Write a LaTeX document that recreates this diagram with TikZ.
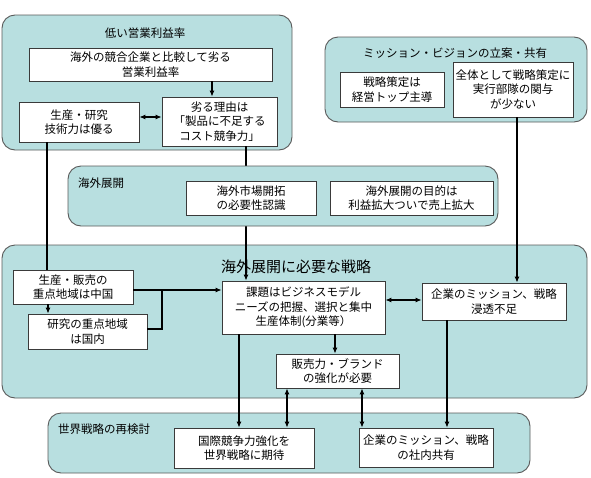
\documentclass[tikz,border=0pt]{standalone}
\usepackage{fontspec}
\setmainfont{Noto Sans CJK JP}
\usepackage{tikz}
\usetikzlibrary{arrows.meta, positioning, calc}
\definecolor{grpfill}{HTML}{B8DFE0}
\definecolor{grpline}{HTML}{5A5A5A}
\definecolor{boxline}{HTML}{3A3A3A}

\begin{document}
\begin{tikzpicture}[
  x=1pt, y=-1pt,
  grp/.style={draw=grpline, fill=grpfill, rounded corners=13pt, line width=0.9pt, inner sep=0pt},
  itm/.style={draw=boxline, fill=white, line width=0.8pt, align=center, inner sep=1pt, font=\fontsize{11.5}{14.5}\selectfont},
  ttl/.style={font=\fontsize{11.5}{14}\selectfont, inner sep=0pt},
  arr/.style={-{Latex[length=6pt,width=5pt]}, line width=1.1pt},
  arrb/.style={{Latex[length=6pt,width=5pt]}-{Latex[length=6pt,width=5pt]}, line width=1.1pt},
  lnk/.style={line width=1.1pt}
]
\useasboundingbox (0,0) rectangle (591,477);

% groups
\node[grp, minimum width=290pt, minimum height=135pt] (g1) at (147,82.5) {};
\node[grp, minimum width=262pt, minimum height=85pt] (g2) at (456,79.5) {};
\node[grp, minimum width=585pt, minimum height=153pt] (g4) at (294.5,321.5) {};
\node[grp, minimum width=482pt, minimum height=60pt] (g5) at (289,443) {};

% boxes
\node[itm, minimum width=243pt, minimum height=33pt] (a) at (150.5,64.5) {海外の競合企業と比較して劣る\\営業利益率};
\node[itm, minimum width=120pt, minimum height=40pt] (b) at (79,122) {生産・研究\\技術力は優る};
\node[itm, minimum width=115pt, minimum height=49pt] (c) at (219.5,121.5) {劣る理由は\\「製品に不足する\\コスト競争力」};
\node[itm, minimum width=104pt, minimum height=35pt] (d) at (392,89.5) {戦略策定は\\経営トップ主導};
\node[itm, minimum width=120pt, minimum height=55pt] (e) at (513,89.5) {全体として戦略策定に\\実行部隊の関与\\が少ない};
\node[itm, minimum width=120pt, minimum height=34pt] (h) at (73,287) {生産・販売の\\重点地域は中国};
\node[itm, minimum width=119pt, minimum height=35pt] (i) at (87.5,331.5) {研究の重点地域\\は国内};
\node[itm, minimum width=163pt, minimum height=53pt] (j) at (303.5,307.5) {課題はビジネスモデル\\ニーズの把握、選択と集中\\生産体制(分業等）};
\node[itm, minimum width=144pt, minimum height=37pt] (k) at (494,301.5) {企業のミッション、戦略\\浸透不足};
\node[itm, minimum width=123pt, minimum height=34pt] (l) at (337.5,371) {販売力・ブランド\\の強化が必要};
\node[itm, minimum width=140pt, minimum height=40pt] (m) at (244,448) {国際競争力強化を\\世界戦略に期待};
\node[itm, minimum width=134pt, minimum height=39pt] (n) at (426,447.5) {企業のミッション、戦略\\の社内共有};

\coordinate (jn) at (162,290);

% connectors
\draw[arr] ([xshift=-7.5pt]c.north |- a.south) -- ([xshift=-7.5pt]c.north);
\draw[arrb] ([yshift=5pt]b.east) -- ([yshift=5pt]b.east -| c.west);
\draw[lnk] ([xshift=-26pt]h.north |- b.south) -- ([xshift=-26pt]h.north);
\draw[arr] ([xshift=-57.5pt]j.north |- c.south) -- ([xshift=-57.5pt]j.north);
\draw[arr] ([xshift=23pt]k.north |- e.south) -- ([xshift=23pt]k.north);
\draw[arr] ([xshift=-39.5pt]i.north |- h.south) -- ([xshift=-39.5pt]i.north);
\draw[arr] ([yshift=-3pt]h.east) -- ([yshift=-3pt]h.east -| j.west);
\draw[lnk] ([yshift=2.5pt]i.east) -| (jn);
\draw[arrb] ([yshift=7.5pt]j.east) -- ([yshift=7.5pt]j.east -| k.west);
\draw[arr] ([xshift=-2.5pt]l.north |- j.south) -- ([xshift=-2.5pt]l.north);
\draw[arr] ([xshift=-5pt]m.north |- j.south) -- ([xshift=-5pt]m.north);
\draw[arrb] ([xshift=-50.5pt]l.south) -- ([xshift=-50.5pt]l.south |- m.north);
\draw[arrb] ([xshift=24.5pt]l.south) -- ([xshift=24.5pt]l.south |- n.north);
\draw[arr] ([xshift=21pt]n.north |- k.south) -- ([xshift=21pt]n.north);

% middle group lies over the long line
\node[grp, minimum width=430pt, minimum height=60pt] (g3) at (283,196) {};
\node[itm, minimum width=130pt, minimum height=34pt] (f) at (251,198) {海外市場開拓\\の必要性認識};
\node[itm, minimum width=163pt, minimum height=34pt] (g) at (411.5,198) {海外展開の目的は\\利益拡大ついで売上拡大};

% titles
\node[ttl] (t1) at (145,33) {低い営業利益率};
\node[ttl] (t2) at (455,53) {ミッション・ビジョンの立案・共有};
\node[ttl, anchor=west] (t3) at (78,183) {海外展開};
\node[ttl, font=\fontsize{15}{18}\selectfont] (t4) at (296,267) {海外展開に必要な戦略};
\node[ttl, anchor=west] (t5) at (58,429) {世界戦略の再検討};
\end{tikzpicture}
\end{document}
